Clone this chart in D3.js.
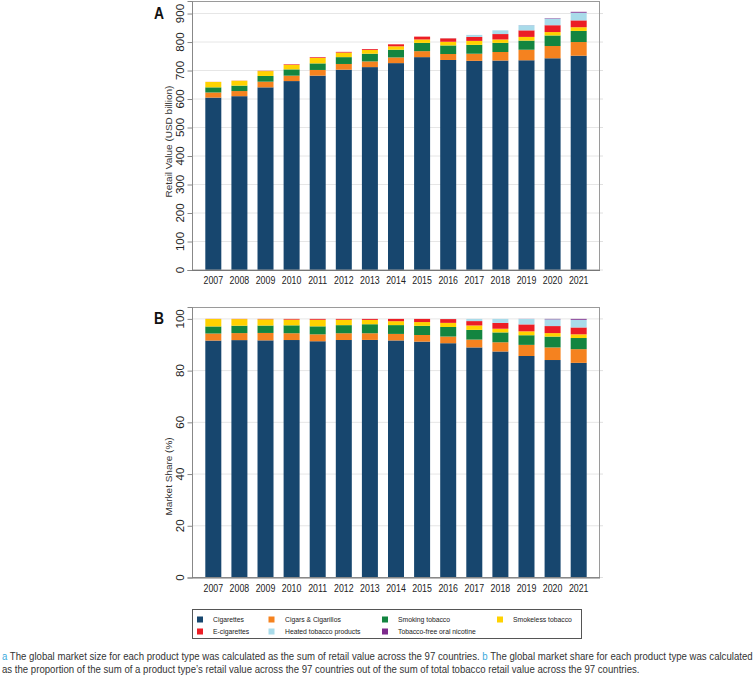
<!DOCTYPE html>
<html>
<head>
<meta charset="utf-8">
<script src="https://cdn.jsdelivr.net/npm/d3@7"></script>
<style>
  html, body { margin: 0; padding: 0; background: #fff; }
  svg { display: block; }
  text { font-family: "Liberation Sans", Arial, Helvetica, sans-serif; }
</style>
</head>
<body>
<svg id="chart" width="756" height="675"></svg>
<script>
// ---------------- data ----------------
const years = ["2007","2008","2009","2010","2011","2012","2013","2014","2015","2016","2017","2018","2019","2020","2021"];
const cigarettes       = [605, 610, 641, 663, 682, 703, 712, 726, 747, 737, 734, 735, 736, 743, 752];
const cigars           = [18, 18, 20, 19, 20, 20, 20, 20, 21, 21, 25, 30, 37, 43, 48];
const smokingTobacco   = [18, 19, 20, 22, 23, 24, 27, 27, 29, 30, 31, 32, 32, 37, 39];
const smokelessTobacco = [19, 17, 17, 16, 19, 16, 13, 12, 12, 13, 14, 12, 13, 12, 13];
const eCigarettes      = [0.3, 0.5, 1, 2, 2.5, 2.5, 3, 7, 10, 12, 14, 19, 23, 24, 24];
const heatedTobacco    = [0, 0, 0, 0, 0, 0, 0, 0, 0, 0.5, 7, 13, 18, 23, 27];
const oralNicotine     = [0, 0, 0, 0, 0, 0, 0, 0, 0, 0, 0, 0, 0.3, 1.5, 3];

const seriesNames = ["Cigarettes", "Cigars & Cigarillos", "Smoking tobacco", "Smokeless tobacco",
                     "E-cigarettes", "Heated tobacco products", "Tobacco-free oral nicotine"];
const seriesValues = [cigarettes, cigars, smokingTobacco, smokelessTobacco, eCigarettes, heatedTobacco, oralNicotine];
const seriesColors = ["#17466e", "#f5821f", "#138540", "#ffd200", "#ec1d25", "#a9dbea", "#7d2a8c"];

const ticksA = [0, 100, 200, 300, 400, 500, 600, 700, 800, 900];
const ticksB = [0, 20, 40, 60, 80, 100];

// ---------------- build tables ----------------
const rowsA = years.map((y, i) => {
  const r = { year: y };
  seriesNames.forEach((s, k) => r[s] = seriesValues[k][i]);
  return r;
});
const rowsB = rowsA.map(r => {
  const tot = d3.sum(seriesNames, s => r[s]);
  const o = { year: r.year };
  seriesNames.forEach(s => o[s] = r[s] / tot * 100);
  return o;
});

const svg = d3.select("#chart");
const color = d3.scaleOrdinal().domain(seriesNames).range(seriesColors);
const stack = d3.stack().keys(seriesNames);

const left = 192, right = 600;
const x = d3.scaleBand().domain(years).range([left, right]).paddingInner(0.387).paddingOuter(0.51);

const SX = 0.84; // horizontal condensation of the original figure's lettering

function panel(cfg) {
  const { rows, y, ticks, title, titleY, letter, letterY } = cfg;
  const g = svg.append("g");
  const [y0, y1] = y.range();

  // gridlines
  g.append("g").selectAll("line").data(ticks.filter(t => t > 0)).join("line")
    .attr("x1", left).attr("x2", right)
    .attr("y1", d => y(d)).attr("y2", d => y(d))
    .attr("stroke", "#e6e6e6").attr("stroke-width", 1);

  // bars
  const series = stack(rows);
  g.append("g").selectAll("g").data(series).join("g")
    .attr("fill", d => color(d.key))
    .selectAll("rect").data(d => d).join("rect")
    .attr("x", d => x(d.data.year))
    .attr("width", x.bandwidth())
    .attr("y", d => y(d[1]))
    .attr("height", d => Math.max(0, y(d[0]) - y(d[1])));

  // frame
  g.append("rect").attr("x", left + 0.5).attr("y", y1 + 0.5)
    .attr("width", right - left - 1).attr("height", y0 - y1 - 0.5)
    .attr("fill", "none").attr("stroke", "#9a9a9a").attr("stroke-width", 1);

  // left axis
  const ax = d3.axisLeft(y).tickValues(ticks).tickSize(4.5).tickFormat("");
  const axg = g.append("g").attr("transform", `translate(${left},0)`).call(ax);
  axg.select(".domain").attr("stroke", "#888");
  axg.selectAll(".tick line").attr("stroke", "#888");
  // right faint ticks
  g.append("g").selectAll("line").data(ticks).join("line")
    .attr("x1", right).attr("x2", right + 3)
    .attr("y1", d => y(d)).attr("y2", d => y(d))
    .attr("stroke", "#e0e0e0");

  // y tick labels (vertical)
  g.append("g").selectAll("text").data(ticks).join("text")
    .attr("transform", d => `translate(183.5,${y(d)}) scale(0.9,1) rotate(-90)`)
    .attr("text-anchor", "middle")
    .attr("font-size", "11.5px").attr("fill", "#222")
    .text(d => d);

  // x axis line
  g.append("line").attr("x1", left).attr("x2", right)
    .attr("y1", y0 + 0.5).attr("y2", y0 + 0.5).attr("stroke", "#777");

  // x labels
  g.append("g").selectAll("text").data(years).join("text")
    .attr("transform", d => `translate(${x(d) + x.bandwidth() / 2},${y0 + 14}) scale(${SX},1)`)
    .attr("text-anchor", "middle")
    .attr("font-size", "10.5px").attr("fill", "#222")
    .text(d => d);

  // axis title
  g.append("text")
    .attr("transform", `translate(171.5,${titleY}) scale(${SX},1) rotate(-90)`)
    .attr("text-anchor", "middle")
    .attr("font-size", "10px").attr("fill", "#333")
    .text(title);

  // panel letter
  g.append("text")
    .attr("transform", `translate(159,${letterY}) scale(${SX},1)`)
    .attr("text-anchor", "middle")
    .attr("font-size", "16.5px").attr("font-weight", "bold").attr("fill", "#111")
    .text(letter);
}

panel({
  rows: rowsA,
  y: d3.scaleLinear().domain([0, 944]).range([270, 1]),
  ticks: ticksA, title: "Retail Value (USD billion)", titleY: 141.5,
  letter: "A", letterY: 18.5
});
panel({
  rows: rowsB,
  y: d3.scaleLinear().domain([0, 104.6]).range([577.5, 307]),
  ticks: ticksB, title: "Market Share (%)", titleY: 476.5,
  letter: "B", letterY: 324
});

// ---------------- legend ----------------
const legend = svg.append("g");
legend.append("rect").attr("x", 192.5).attr("y", 609.5).attr("width", 389).attr("height", 29)
  .attr("fill", "#fff").attr("stroke", "#555").attr("stroke-width", 1);
const colMarkers = [200, 271.5, 385, 500];
const colTexts = [213, 285, 398, 513];
const rowY = [619.5, 631.5];
seriesNames.forEach((s, i) => {
  const c = i % 4, r = Math.floor(i / 4);
  legend.append("rect").attr("x", colMarkers[c] - 3).attr("y", rowY[r] - 3)
    .attr("width", 6).attr("height", 6).attr("fill", color(s));
  legend.append("text")
    .attr("transform", `translate(${colTexts[c]},${rowY[r] + 2.8}) scale(0.85,1)`)
    .attr("font-size", "8px").attr("fill", "#222").text(s);
});

// ---------------- caption ----------------
const capFont = '"Liberation Sans Narrow", "Liberation Sans", Arial, sans-serif';
const capLines = [
  [["a", true], [" The global market size for each product type was calculated as the sum of retail value across the 97 countries. ", false], ["b", true], [" The global market share for each product type was calculated", false]],
  [["as the proportion of the sum of a product type\u2019s retail value across the 97 countries out of the sum of total tobacco retail value across the 97 countries.", false]]
];
const capY = [659.5, 672.5];
const capTexts = capLines.map((parts, i) => {
  const t = svg.append("text").attr("x", 0).attr("y", 0)
    .attr("font-size", "11px").attr("fill", "#333").style("font-family", capFont);
  parts.forEach(([txt, hl]) => t.append("tspan").attr("fill", hl ? "#3aa9dc" : "#333").text(txt));
  return t;
});
const w1 = capTexts[0].node().getComputedTextLength();
const ratio = 751 / w1;
capTexts.forEach((t, i) => t.attr("transform", `translate(2,${capY[i]}) scale(${ratio},1)`));
</script>
</body>
</html>
